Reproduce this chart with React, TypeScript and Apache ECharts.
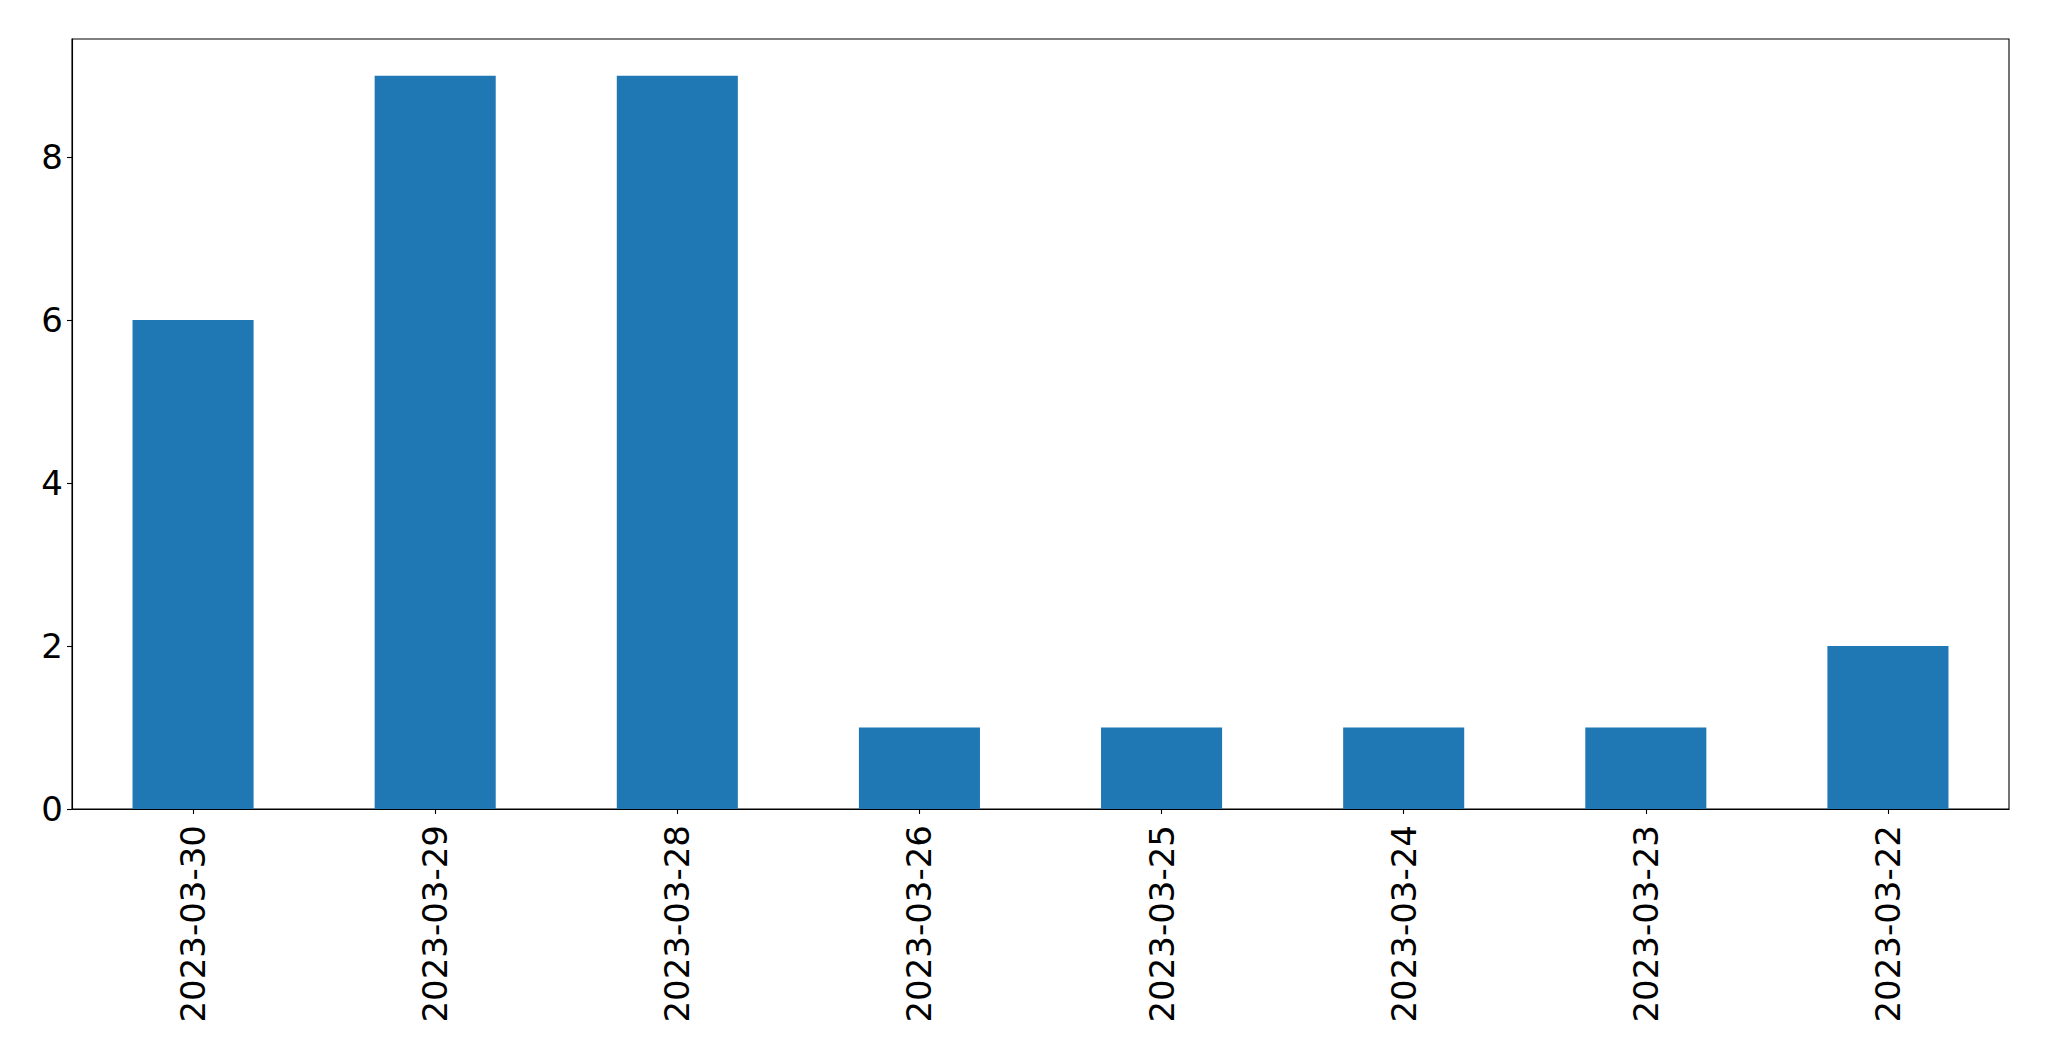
import React, { useEffect, useRef } from "react";
import * as echarts from "echarts";

const categories = ["2023-03-30", "2023-03-29", "2023-03-28", "2023-03-26", "2023-03-25", "2023-03-24", "2023-03-23", "2023-03-22"];
const counts = [6, 9, 9, 1, 1, 1, 1, 2];
const yTicks = [0, 2, 4, 6, 8];

export default function App() {
  const ref = useRef<HTMLDivElement>(null);
  useEffect(() => {
    if (!ref.current) return;
    const chart = echarts.init(ref.current, null, { renderer: "svg" });
    const font = "DejaVu Sans";
    chart.setOption({
      animation: false,
      backgroundColor: "#ffffff",
      grid: {
        left: 72,
        right: 40,
        top: 39,
        bottom: 252,
        show: true,
        borderColor: "#000000",
        borderWidth: 1.1,
        containLabel: false,
      },
      xAxis: {
        type: "category",
        data: categories,
        boundaryGap: true,
        axisLine: { show: true, lineStyle: { color: "#000000", width: 1.1 } },
        axisTick: { show: true, alignWithLabel: true, length: 5, lineStyle: { color: "#000000", width: 1.1 } },
        axisLabel: {
          rotate: 90,
          margin: 16,
          color: "#000000",
          fontFamily: font,
          fontSize: 34,
          interval: 0,
        },
        splitLine: { show: false },
      },
      yAxis: {
        type: "value",
        min: 0,
        max: 9.45,
        interval: 2,
        axisLine: { show: true, lineStyle: { color: "#000000", width: 1.1 } },
        axisTick: { show: true, length: 5, customValues: yTicks, lineStyle: { color: "#000000", width: 1.1 } },
        axisLabel: {
          margin: 9,
          color: "#000000",
          fontFamily: font,
          fontSize: 34,
          customValues: yTicks,
        },
        splitLine: { show: false },
      },
      series: [
        {
          type: "bar",
          data: counts,
          barWidth: "50%",
          itemStyle: { color: "#1f77b4" },
        },
      ],
    });
    return () => chart.dispose();
  }, []);
  return (
    <div
      ref={ref}
      style={{ position: "fixed", left: 0, top: 0, width: 2049, height: 1061 }}
    />
  );
}
